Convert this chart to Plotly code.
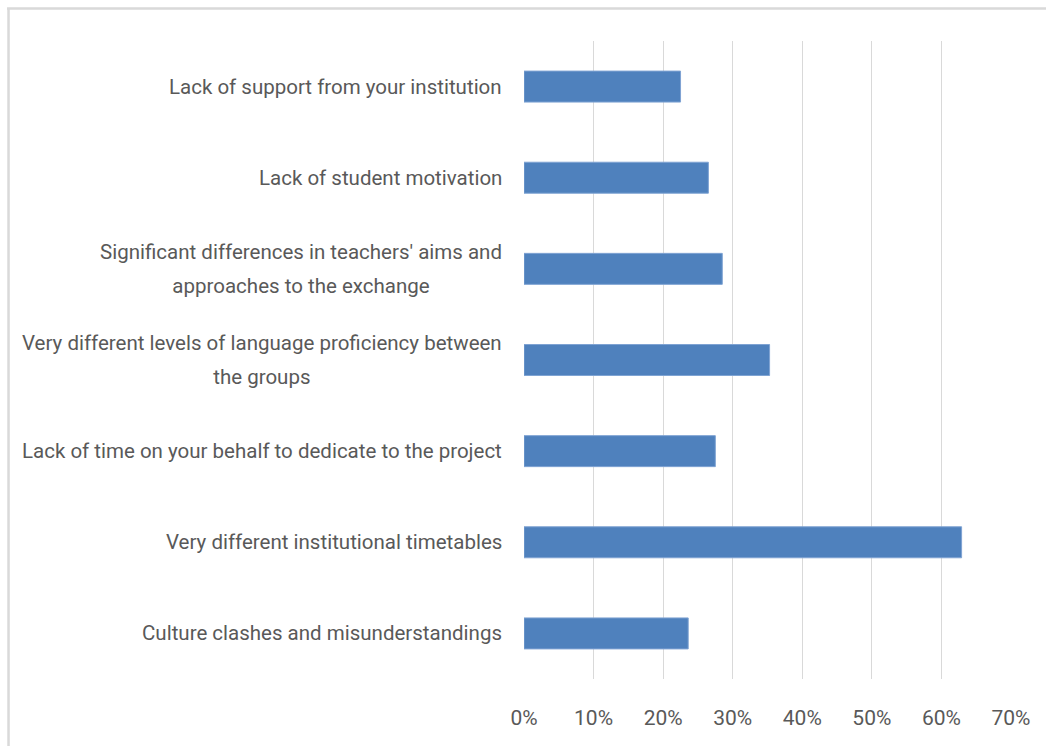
import plotly.graph_objects as go

categories = [
    "Lack of support from your institution",
    "Lack of student motivation",
    "Significant differences in teachers' aims and<br>approaches to the exchange",
    "Very different levels of language proficiency between<br>the groups",
    "Lack of time on your behalf to dedicate to the project",
    "Very different institutional timetables",
    "Culture clashes and misunderstandings",
]
values = [0.225, 0.265, 0.285, 0.353, 0.275, 0.629, 0.236]
tick_vals = [0, 0.1, 0.2, 0.3, 0.4, 0.5, 0.6, 0.7]
tick_text = ["0%", "10%", "20%", "30%", "40%", "50%", "60%", "70%"]

W, H = 1046, 746
L, R, T, B = 523.5, 35, 41, 67
pw, ph = W - L - R, H - T - B

text_color = "#595959"
font_family = "Roboto"
label_size = 20.5

fig = go.Figure()
fig.add_trace(go.Bar(
    y=categories, x=values, orientation="h",
    marker=dict(color="#4F81BD", line=dict(color="#7FA3D3", width=1)),
    hoverinfo="x+y",
))

annotations = []
for c in categories:
    lines = c.split("<br>")
    txt = "<br>".join(
        "<span style='font-size:%spx'>%s</span>" % (label_size, ln) for ln in lines
    )
    annotations.append(dict(
        x=0, xref="paper", y=c, yref="y", text=txt, showarrow=False,
        xanchor="right", yanchor="middle", align="center", xshift=-20,
        font=dict(family=font_family, size=26, color=text_color),
    ))

def px_x(p):
    return (p - L) / pw

def px_y(p):
    return 1 - (p - T) / ph

shapes = [
    dict(type="line", xref="paper", yref="paper",
         x0=px_x(6), x1=px_x(1060), y0=px_y(8.5), y1=px_y(8.5),
         line=dict(color="#D9D9D9", width=2.5)),
    dict(type="line", xref="paper", yref="paper",
         x0=px_x(7.5), x1=px_x(7.5), y0=px_y(8.5), y1=px_y(760),
         line=dict(color="#D9D9D9", width=2.5)),
]

fig.update_layout(
    width=W, height=H,
    margin=dict(l=L, r=R, t=T, b=B, pad=0),
    paper_bgcolor="white", plot_bgcolor="white",
    showlegend=False,
    bargap=0.66,
    annotations=annotations,
    shapes=shapes,
    xaxis=dict(
        range=[0, 0.7], tickvals=tick_vals, ticktext=tick_text,
        showgrid=True, gridcolor="#D9D9D9", gridwidth=1,
        zeroline=False, showline=False, ticks="",
        ticklabelstandoff=24,
        tickfont=dict(family=font_family, size=21, color=text_color),
    ),
    yaxis=dict(
        categoryorder="array", categoryarray=categories,
        autorange="reversed", showticklabels=False,
        showgrid=False, zeroline=False, showline=False, ticks="",
    ),
)

fig.write_html("out.html")
